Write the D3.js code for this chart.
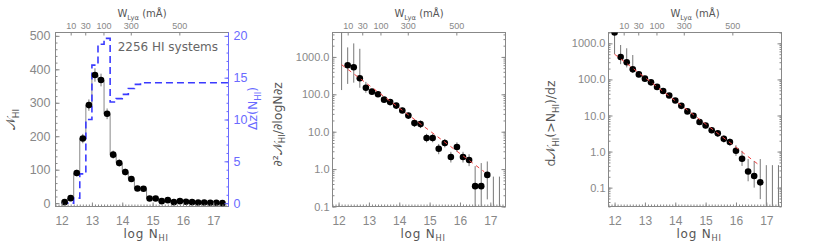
<!DOCTYPE html>
<html>
<head>
<meta charset="utf-8">
<script src="https://cdn.jsdelivr.net/npm/d3@7"></script>
<style>
body { margin: 0; background: #fff; }
</style>
</head>
<body>
<svg id="fig" width="830" height="252"></svg>
<script>
// ---- values ----
var nhiBins   = [12.1,12.3,12.5,12.7,12.9,13.1,13.3,13.5,13.7,13.9,14.1,14.3,14.5,14.7,14.9,15.1,15.3,15.5,15.7,15.9,16.1,16.3,16.5,16.7,16.9,17.1,17.3];
var nhiCounts = [3,15,90,193,293,383,368,267,145,120,93,72,44,43,14,14,6,9,3,6,4,3,2,2,1,1,0];
var nhiErr    = [2,4,10,14,17,20,19,16,12,11,10,8,7,7,4,4,2.5,3,2,2.5,2,2,1.5,1.5,1,1,0];
var dzPath    = [0,0,0.6,3.5,10.0,16.5,19.0,19.7,12.1,12.5,13.0,13.7,14.2,14.4,14.4,14.4,14.4,14.4,14.4,14.4,14.4,14.4,14.4,14.4,14.4,14.4,14.4];

// differential distribution (same bins)
var diffVal = [null,600,530,270,150,118,100,72,62,50,37,27,17,16,6.8,6.8,3.5,5.0,2.1,3.9,2.1,1.75,0.35,0.35,0.7,null,null];
var diffHi  = [10000,1800,2300,1650,215,140,118,85,73,59,44,32,21,20,8.8,8.8,4.7,6.4,2.9,5.2,2.9,2.5,1.2,1.45,1.6,0.63,0.63];
var diffLo  = [130,190,205,150,110,100,85,61,52,42,31,22.5,13.5,12.5,5.2,5.2,2.5,3.8,1.5,2.9,1.5,1.2,0.01,0.01,0.155,0.01,0.01];
var diffFitN = [12.1, 16.8];
var diffFitV = [620, 0.85];

// cumulative distribution
var cumBins = [12.0,12.2,12.4,12.6,12.8,13.0,13.2,13.4,13.6,13.8,14.0,14.2,14.4,14.6,14.8,15.0,15.2,15.4,15.6,15.8,16.0,16.2,16.4,16.6,16.8,17.0,17.2,17.4];
var cumVal  = [2000,420,300,190,138,105,83,62,48,36,26,18.5,13,9.8,6.6,5.3,3.9,3.2,2.25,1.85,1.05,0.63,0.28,0.21,0.14,null,null,null];
var cumHi   = [5000,900,730,475,165,120,95,70,54,41,30,21,15,11.5,7.8,6.3,4.7,3.9,2.8,2.3,1.5,1.05,0.62,0.55,0.62,0.42,0.42,0.42];
var cumLo   = [500,265,215,155,115,92,72,55,42,31,22.5,16,11.2,8.3,5.5,4.4,3.2,2.6,1.8,1.45,0.76,0.40,0.15,0.1,0.048,0.001,0.001,0.001];
var cumFitN = [12.0, 16.8];
var cumFitV = [500, 0.4];

// axes
var nMajor = [12,13,14,15,16,17];
var wPos = [12.3, 12.78, 13.38, 14.28, 15.88];
var wLab = ["10","30","100","300","500"];
var logTicks = [0.1,1,10,100,1000];

var W = 173, H = 174, TOP = 32.5;
var lefts = [55.5, 332.5, 608.5];
var FONT = "Liberation Sans, Arial, sans-serif";
var GREY = "#555", LINE = "#888", BLUE = "#6a6aff";

var svg = d3.select("#fig");
var x = d3.scaleLinear().domain([11.8, 17.5]).range([0, W]);

function addAxis(g, axis, tx, ty, color, fsize) {
  var a = g.append("g").attr("transform", "translate(" + tx + "," + ty + ")").call(axis);
  a.attr("font-family", FONT).attr("font-size", fsize || 11);
  a.select(".domain").remove();
  a.selectAll(".tick line").attr("stroke", color || LINE);
  a.selectAll(".tick text").attr("fill", color || GREY);
  return a;
}

function label(g, tx, ty, rot, parts, size, color) {
  var t = g.append("text")
      .attr("transform", "translate(" + tx + "," + ty + ") rotate(" + rot + ")")
      .attr("text-anchor", "middle")
      .attr("font-family", "DejaVu Sans, sans-serif")
      .attr("font-size", size)
      .attr("fill", color || GREY);
  var shift = 0;
  parts.forEach(function(p) {
    var want = p[1] ? size * 0.3 : 0;
    var s = t.append("tspan").text(p[0]).attr("dy", want - shift);
    if (p[1]) s.attr("font-size", size * 0.68);
    shift = want;
  });
  return t;
}

function panel(i) {
  var g = svg.append("g").attr("transform", "translate(" + lefts[i] + "," + TOP + ")");
  g.append("clipPath").attr("id", "clip" + i)
    .append("rect").attr("width", W).attr("height", H);
  g.append("rect").attr("width", W).attr("height", H)
    .attr("fill", "none").attr("stroke", LINE);
  return g;
}

function nAxes(g) {
  addAxis(g, d3.axisBottom(x).tickValues(nMajor).tickSize(-4).tickPadding(10).tickFormat(d3.format("d")), 0, H, LINE, 12);
  addAxis(g, d3.axisBottom(x).tickValues(d3.range(11.8, 17.45, 0.1)).tickSize(-2).tickFormat(""), 0, H, LINE);
  addAxis(g, d3.axisTop(x).tickValues(wPos).tickSize(-3).tickPadding(4)
      .tickFormat(function(d, i) { return wLab[i]; }), 0, 0, LINE, 9);
  label(g, W / 2, -15.5, 0, [["W", 0], ["Lyα", 1], [" (mÅ)", 0]], 10);
  label(g, W / 2 + 4, 205, 0, [["log N", 0], ["HI", 1]], 12).attr("letter-spacing", 0.8);
}

function dots(g, i, xs, ys, yScale, lo, hi) {
  var pl = g.append("g").attr("clip-path", "url(#clip" + i + ")");
  pl.selectAll("line.err").data(xs).enter().append("line")
    .attr("class", "err")
    .attr("x1", function(d) { return x(d); })
    .attr("x2", function(d) { return x(d); })
    .attr("y1", function(d, k) { return yScale(lo[k]); })
    .attr("y2", function(d, k) { return yScale(hi[k]); })
    .attr("stroke", "#777").attr("stroke-width", 1);
  pl.selectAll("circle").data(xs.filter(function(d, k) { return ys[k] != null; })).enter().append("circle")
    .attr("cx", function(d) { return x(d); })
    .attr("cy", function(d) { return yScale(ys[xs.indexOf(d)]); })
    .attr("r", 3.3).attr("fill", "#000");
  return pl;
}

// ---------- panel 1 : counts ----------
var g1 = panel(0);
var y1 = d3.scaleLinear().domain([-10, 510]).range([H, 0]);
var y1r = d3.scaleLinear().domain([-0.4, 20.4]).range([H, 0]);
var c1 = g1.append("g").attr("clip-path", "url(#clip0)");

var histPts = nhiBins.map(function(d, k) { return [d - 0.1, nhiCounts[k]]; });
histPts.push([nhiBins[nhiBins.length - 1] + 0.1, nhiCounts[nhiCounts.length - 1]]);
c1.append("path").datum(histPts)
  .attr("d", d3.line().x(function(d) { return x(d[0]); }).y(function(d) { return y1(d[1]); }).curve(d3.curveStepAfter))
  .attr("fill", "none").attr("stroke", "#888").attr("stroke-width", 1);

var dzPts = nhiBins.map(function(d, k) { return [d - 0.1, dzPath[k]]; });
dzPts.push([17.5, dzPath[dzPath.length - 1]]);
c1.append("path").datum(dzPts)
  .attr("d", d3.line().x(function(d) { return x(d[0]); }).y(function(d) { return y1r(d[1]); }).curve(d3.curveStepAfter))
  .attr("fill", "none").attr("stroke", "#3a3aff").attr("stroke-width", 1.6)
  .attr("stroke-dasharray", "7,4");

dots(g1, 0, nhiBins, nhiCounts, y1,
  nhiCounts.map(function(d, k) { return d - nhiErr[k]; }),
  nhiCounts.map(function(d, k) { return d + nhiErr[k]; }));

g1.append("line").attr("x1", W).attr("x2", W).attr("y1", 0).attr("y2", H).attr("stroke", BLUE);
addAxis(g1, d3.axisLeft(y1).tickValues([0,100,200,300,400,500]).tickSize(-4).tickPadding(5), 0, 0, LINE, 12.5);
addAxis(g1, d3.axisLeft(y1).tickValues(d3.range(0, 501, 20)).tickSize(-2).tickFormat(""), 0, 0, LINE);
addAxis(g1, d3.axisRight(y1r).tickValues([0,5,10,15,20]).tickSize(-4).tickPadding(5), W, 0, BLUE, 12.5);
addAxis(g1, d3.axisRight(y1r).tickValues(d3.range(0, 20.5, 1)).tickSize(-2).tickFormat(""), W, 0, BLUE);
nAxes(g1);
g1.append("text").attr("x", 162.5).attr("y", 18.5).attr("text-anchor", "end")
  .attr("font-family", "DejaVu Sans, sans-serif").attr("font-size", 12).attr("fill", "#666")
  .text("2256 HI systems");
label(g1, -40.5, 87, -90, [["𝒩", 0], ["HI", 1]], 13);
label(g1, 201.5, 76, -90, [["Δz(N", 0], ["HI", 1], [")", 0]], 12.5, BLUE);

// ---------- panel 2 : differential ----------
var g2 = panel(1);
var y2 = d3.scaleLog().domain([0.1, 4500]).range([H, 0]);
var line2 = d3.line().x(function(d) { return x(d[0]); }).y(function(d) { return y2(d[1]); });
dots(g2, 1, nhiBins, diffVal, y2, diffLo, diffHi);
g2.append("path").datum(diffFitN.map(function(d, k) { return [d, diffFitV[k]]; }))
  .attr("clip-path", "url(#clip1)")
  .attr("d", line2).attr("fill", "none").attr("stroke", "#f04040")
  .attr("stroke-width", 1).attr("stroke-dasharray", "4,4");
addAxis(g2, d3.axisLeft(y2).tickValues(logTicks).tickSize(-4).tickPadding(3).tickFormat(d3.format(".1f")), 0, 0, LINE, 11);
addAxis(g2, d3.axisLeft(y2).tickValues(y2.ticks()).tickSize(-2).tickFormat(""), 0, 0, LINE);
addAxis(g2, d3.axisRight(y2).tickValues(logTicks).tickSize(-4).tickFormat(""), W, 0, LINE);
addAxis(g2, d3.axisRight(y2).tickValues(y2.ticks()).tickSize(-2).tickFormat(""), W, 0, LINE);
nAxes(g2);
label(g2, -51, 92, -90, [["∂²𝒩", 0], ["HI", 1], ["/∂logN∂z", 0]], 12.5);

// ---------- panel 3 : cumulative ----------
var g3 = panel(2);
var y3 = d3.scaleLog().domain([0.03, 2000]).range([H, 0]);
var line3 = d3.line().x(function(d) { return x(d[0]); }).y(function(d) { return y3(d[1]); });
dots(g3, 2, cumBins, cumVal, y3, cumLo, cumHi);
g3.append("path").datum(cumFitN.map(function(d, k) { return [d, cumFitV[k]]; }))
  .attr("clip-path", "url(#clip2)")
  .attr("d", line3).attr("fill", "none").attr("stroke", "#f04040")
  .attr("stroke-width", 1).attr("stroke-dasharray", "4,4");
addAxis(g3, d3.axisLeft(y3).tickValues(logTicks).tickSize(-4).tickPadding(3).tickFormat(d3.format(".1f")), 0, 0, LINE, 11);
addAxis(g3, d3.axisLeft(y3).tickValues(y3.ticks()).tickSize(-2).tickFormat(""), 0, 0, LINE);
addAxis(g3, d3.axisRight(y3).tickValues(logTicks).tickSize(-4).tickFormat(""), W, 0, LINE);
addAxis(g3, d3.axisRight(y3).tickValues(y3.ticks()).tickSize(-2).tickFormat(""), W, 0, LINE);
nAxes(g3);
label(g3, -53.5, 91, -90, [["d𝒩", 0], ["HI", 1], ["(>N", 0], ["HI", 1], [")/dz", 0]], 12.5);
</script>
</body>
</html>
